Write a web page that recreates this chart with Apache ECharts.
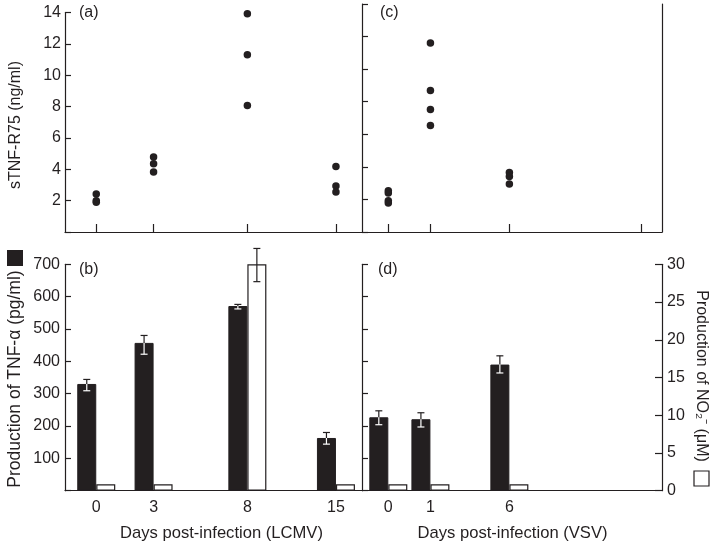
<!DOCTYPE html>
<html><head><meta charset="utf-8">
<script src="https://cdn.jsdelivr.net/npm/echarts@6/dist/echarts.min.js"></script>
<style>html,body{margin:0;padding:0;background:#fff}#c{width:716px;height:547px}</style>
</head><body><div id="c"></div>
<script>
// ---------------- data ----------------
const lcmvDays = ['0', '3', '8', '15'];
const vsvDays = ['0', '1', '6', ''];
// sTNF-R75 (ng/ml), individual animals
const lcmvSTNF = [[2.43, 2.0, 1.9], [4.78, 4.36, 3.82], [13.92, 11.3, 8.07], [4.17, 2.93, 2.55]];
const vsvSTNF = [[2.53, 2.39, 1.92, 1.78], [11.6, 8.69, 7.52, 6.54], [3.66, 3.41, 2.94]];
// TNF-alpha (pg/ml), mean and error range
const lcmvTNF = [330, 457, 571, 163];
const lcmvTNFErr = [[309, 344], [422, 480], [562, 576], [144, 180]];
const vsvTNF = [227, 221, 390];
const vsvTNFErr = [[204, 247], [197, 241], [364, 417]];
// NO2- (uM)
const lcmvNO2 = [0.84, 0.84, 30.0, 0.84];
const lcmvNO2Err = [null, null, [27.7, 32.1], null];
const vsvNO2 = [0.84, 0.84, 0.84];
// axis ticks
const sTNFTicks = { min: 0, max: 14, interval: 2 };
const tnfTicks = { min: 0, max: 700, interval: 100 };
const no2Ticks = { min: 0, max: 30, interval: 5 };

// ---------------- layout helpers ----------------
const SLOTS = 58;
const slotNames = Array.from({ length: SLOTS }, (_, i) => 's' + i);
const lcmvSlot = [6, 17, 35, 52];
const vsvSlot = [5, 13, 28, 53];
const INK = '#231f20';
const FONT = 'Liberation Sans, Arial, Helvetica, sans-serif';
const BAR_W = 19;

function slotLabel(slots, labels) {
  return (v, i) => { const k = slots.indexOf(i); return k >= 0 ? labels[k] : ''; };
}
function slotShow(slots) { return (i) => slots.indexOf(i) >= 0; }
function barData(slots, vals) {
  const a = Array(SLOTS).fill('-');
  vals.forEach((v, k) => { a[slots[k]] = v; });
  return a;
}
function dotData(slots, groups) {
  const out = [];
  groups.forEach((g, k) => g.forEach(v => out.push([slots[k], v])));
  return out;
}
function errData(slots, errs, means) {
  const out = [];
  errs.forEach((e, k) => { if (e) out.push([slots[k], e[0], e[1], means[k]]); });
  return out;
}
function errRender(offset, darkBar) {
  return function (params, api) {
    const i = api.value(0);
    const lo = api.coord([i, api.value(1)]);
    const hi = api.coord([i, api.value(2)]);
    const top = api.coord([i, api.value(3)]);
    const x = lo[0] + offset;
    const cap = 3.5;
    const lw = 1.2;
    const col = (y) => (darkBar && y > top[1]) ? '#ffffff' : INK;
    const ch = [];
    if (darkBar) {
      const mid = Math.max(hi[1], Math.min(lo[1], top[1]));
      ch.push({ type: 'line', shape: { x1: x, y1: hi[1], x2: x, y2: mid }, style: { stroke: INK, lineWidth: lw } });
      ch.push({ type: 'line', shape: { x1: x, y1: mid, x2: x, y2: lo[1] }, style: { stroke: '#ffffff', lineWidth: lw } });
    } else {
      ch.push({ type: 'line', shape: { x1: x, y1: hi[1], x2: x, y2: lo[1] }, style: { stroke: INK, lineWidth: lw } });
    }
    ch.push({ type: 'line', shape: { x1: x - cap, y1: hi[1], x2: x + cap, y2: hi[1] }, style: { stroke: col(hi[1] + 0.5), lineWidth: lw } });
    ch.push({ type: 'line', shape: { x1: x - cap, y1: lo[1], x2: x + cap, y2: lo[1] }, style: { stroke: col(lo[1]), lineWidth: lw } });
    return { type: 'group', children: ch };
  };
}

const axisLine = { show: true, lineStyle: { color: INK, width: 1.2 } };
const labelStyle = { color: INK, fontSize: 16, fontFamily: FONT };

const chart = echarts.init(document.getElementById('c'), null, { renderer: 'canvas' });
chart.setOption({
  animation: false,
  textStyle: { fontFamily: FONT },
  grid: [
    { left: 65, top: 12.5, width: 297, height: 219.5 },  // a
    { left: 362, top: 4, width: 300, height: 228 },      // c
    { left: 65, top: 264.3, width: 297, height: 226.4 }, // b
    { left: 362, top: 264.3, width: 300, height: 226.4 } // d
  ],
  xAxis: [
    { gridIndex: 0, type: 'category', data: slotNames, boundaryGap: false, axisLine,
      axisTick: { inside: true, length: 8, lineStyle: { color: INK, width: 1.2 }, interval: slotShow(lcmvSlot) },
      axisLabel: { show: false }, splitLine: { show: false } },
    { gridIndex: 1, type: 'category', data: slotNames, boundaryGap: false, axisLine,
      axisTick: { inside: true, length: 8, lineStyle: { color: INK, width: 1.2 }, interval: slotShow(vsvSlot) },
      axisLabel: { show: false }, splitLine: { show: false } },
    { gridIndex: 2, type: 'category', data: slotNames, boundaryGap: false, axisLine,
      axisTick: { show: false },
      axisLabel: Object.assign({ interval: slotShow(lcmvSlot), margin: 9, formatter: slotLabel(lcmvSlot, lcmvDays) }, labelStyle),
      splitLine: { show: false } },
    { gridIndex: 3, type: 'category', data: slotNames, boundaryGap: false, axisLine,
      axisTick: { show: false },
      axisLabel: Object.assign({ interval: slotShow(vsvSlot), margin: 9, formatter: slotLabel(vsvSlot, vsvDays) }, labelStyle),
      splitLine: { show: false } }
  ],
  yAxis: [
    { gridIndex: 0, type: 'value', min: sTNFTicks.min, max: sTNFTicks.max, interval: sTNFTicks.interval, axisLine,
      axisTick: { show: true, inside: true, length: 6, lineStyle: { color: INK, width: 1.2 } },
      axisLabel: Object.assign({ margin: 4, formatter: v => v === 0 ? '' : String(v) }, labelStyle),
      splitLine: { show: false } },
    { gridIndex: 1, type: 'value', min: sTNFTicks.min, max: sTNFTicks.max, interval: sTNFTicks.interval, axisLine,
      axisTick: { show: true, inside: true, length: 6, lineStyle: { color: INK, width: 1.2 } },
      axisLabel: { show: false }, splitLine: { show: false } },
    { gridIndex: 1, type: 'value', position: 'right', min: sTNFTicks.min, max: sTNFTicks.max, interval: sTNFTicks.interval, axisLine,
      axisTick: { show: false }, axisLabel: { show: false }, splitLine: { show: false } },
    { gridIndex: 2, type: 'value', min: tnfTicks.min, max: tnfTicks.max, interval: tnfTicks.interval, axisLine,
      axisTick: { show: true, inside: true, length: 6, lineStyle: { color: INK, width: 1.2 } },
      axisLabel: Object.assign({ margin: 5, formatter: v => v === 0 ? '' : String(v) }, labelStyle),
      splitLine: { show: false } },
    { gridIndex: 2, type: 'value', position: 'right', min: no2Ticks.min, max: no2Ticks.max, interval: no2Ticks.interval,
      show: false, splitLine: { show: false } },
    { gridIndex: 3, type: 'value', min: tnfTicks.min, max: tnfTicks.max, interval: tnfTicks.interval, axisLine,
      axisTick: { show: true, inside: true, length: 6, lineStyle: { color: INK, width: 1.2 } },
      axisLabel: { show: false }, splitLine: { show: false } },
    { gridIndex: 3, type: 'value', position: 'right', min: no2Ticks.min, max: no2Ticks.max, interval: no2Ticks.interval, axisLine,
      axisTick: { show: true, inside: true, length: 7, lineStyle: { color: INK, width: 1.2 } },
      axisLabel: Object.assign({ margin: 5 }, labelStyle),
      splitLine: { show: false } }
  ],
  series: [
    { type: 'scatter', xAxisIndex: 0, yAxisIndex: 0, symbolSize: 7.5, itemStyle: { color: INK, opacity: 1 },
      data: dotData(lcmvSlot, lcmvSTNF) },
    { type: 'scatter', xAxisIndex: 1, yAxisIndex: 1, symbolSize: 7.5, itemStyle: { color: INK, opacity: 1 },
      data: dotData(vsvSlot, vsvSTNF) },
    { type: 'bar', xAxisIndex: 2, yAxisIndex: 3, barWidth: BAR_W, barGap: '0%',
      itemStyle: { color: INK, borderColor: INK, borderWidth: 1 }, data: barData(lcmvSlot, lcmvTNF) },
    { type: 'bar', xAxisIndex: 2, yAxisIndex: 4, barWidth: BAR_W, barGap: '0%',
      itemStyle: { color: '#ffffff', borderColor: INK, borderWidth: 1.2 }, data: barData(lcmvSlot, lcmvNO2) },
    { type: 'custom', xAxisIndex: 2, yAxisIndex: 3, z: 5, renderItem: errRender(-BAR_W / 2, true),
      data: errData(lcmvSlot, lcmvTNFErr, lcmvTNF) },
    { type: 'custom', xAxisIndex: 2, yAxisIndex: 4, z: 5, renderItem: errRender(BAR_W / 2, false),
      data: errData(lcmvSlot, lcmvNO2Err, lcmvNO2) },
    { type: 'bar', xAxisIndex: 3, yAxisIndex: 5, barWidth: BAR_W, barGap: '0%',
      itemStyle: { color: INK, borderColor: INK, borderWidth: 1 }, data: barData(vsvSlot, vsvTNF) },
    { type: 'bar', xAxisIndex: 3, yAxisIndex: 6, barWidth: BAR_W, barGap: '0%',
      itemStyle: { color: '#ffffff', borderColor: INK, borderWidth: 1.2 }, data: barData(vsvSlot, vsvNO2) },
    { type: 'custom', xAxisIndex: 3, yAxisIndex: 5, z: 5, renderItem: errRender(-BAR_W / 2, true),
      data: errData(vsvSlot, vsvTNFErr, vsvTNF) }
  ],
  graphic: [
    { type: 'text', x: 79, y: 13, style: { text: '(a)', fill: INK, font: '16px ' + FONT, verticalAlign: 'middle' } },
    { type: 'text', x: 380, y: 13, style: { text: '(c)', fill: INK, font: '16px ' + FONT, verticalAlign: 'middle' } },
    { type: 'text', x: 79, y: 270, style: { text: '(b)', fill: INK, font: '16px ' + FONT, verticalAlign: 'middle' } },
    { type: 'text', x: 378, y: 270, style: { text: '(d)', fill: INK, font: '16px ' + FONT, verticalAlign: 'middle' } },
    { type: 'text', x: 15.5, y: 125, rotation: Math.PI / 2,
      style: { text: 'sTNF-R75 (ng/ml)', fill: INK, font: '16px ' + FONT, align: 'center', verticalAlign: 'middle' } },
    { type: 'text', x: 15, y: 379, rotation: Math.PI / 2,
      style: { text: 'Production of TNF-α (pg/ml)', fill: INK, font: '17.5px ' + FONT, align: 'center', verticalAlign: 'middle' } },
    { type: 'rect', shape: { x: 7, y: 250, width: 16, height: 16 }, style: { fill: INK } },
    { type: 'text', x: 701.5, y: 376, rotation: -Math.PI / 2,
      style: { text: 'Production of NO₂⁻ (μM)', fill: INK, font: '16px ' + FONT, align: 'center', verticalAlign: 'middle' } },
    { type: 'rect', shape: { x: 694, y: 471, width: 15, height: 15 }, style: { fill: '#ffffff', stroke: INK, lineWidth: 1.2 } },
    { type: 'text', x: 221.5, y: 533, style: { text: 'Days post-infection (LCMV)', fill: INK, font: '16.6px ' + FONT, align: 'center', verticalAlign: 'middle' } },
    { type: 'text', x: 512.5, y: 533, style: { text: 'Days post-infection (VSV)', fill: INK, font: '16.6px ' + FONT, align: 'center', verticalAlign: 'middle' } }
  ]
});
</script>
</body></html>
